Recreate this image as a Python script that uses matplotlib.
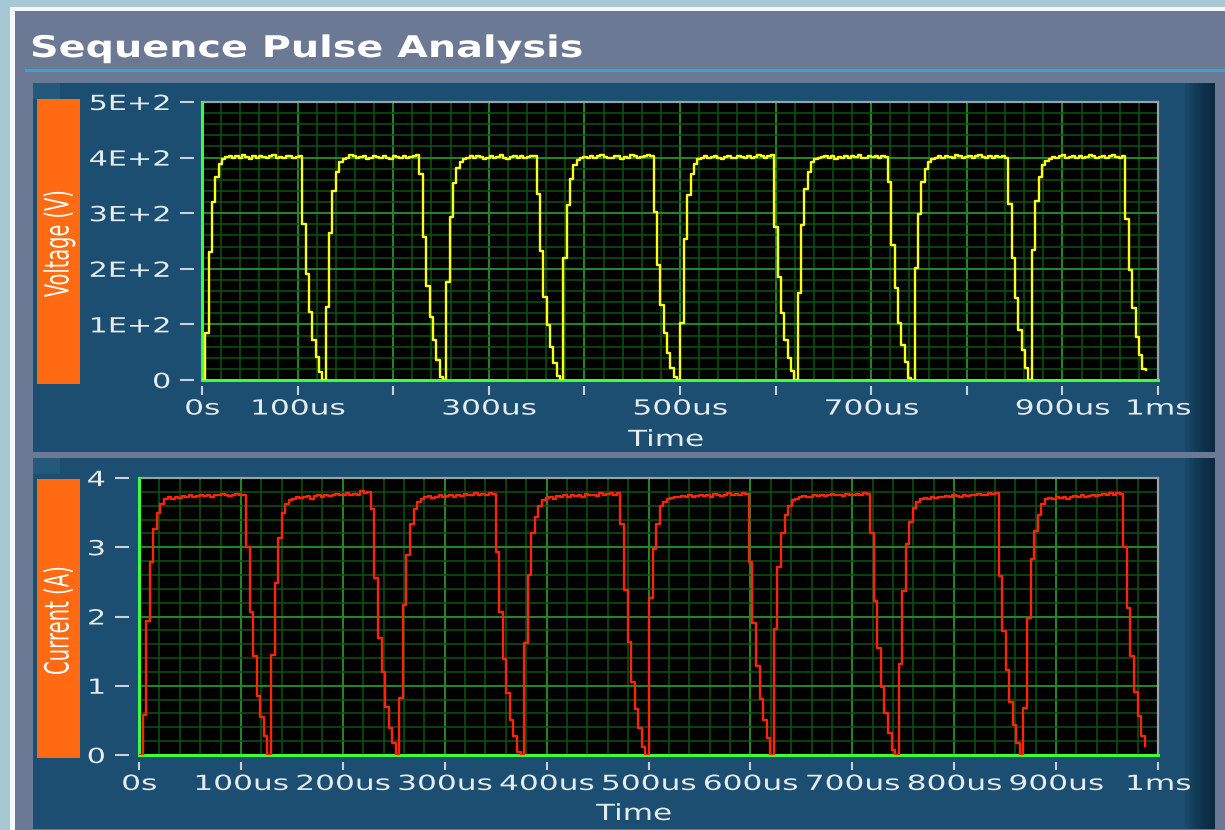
import numpy as np
import matplotlib
matplotlib.use("Agg")
import matplotlib.pyplot as plt
from matplotlib.patches import Rectangle
from matplotlib.patheffects import AbstractPathEffect
from matplotlib.transforms import Affine2D
from matplotlib.ticker import MultipleLocator

# ---------------- data ----------------
sample_step_us = 3.5

voltage_pulses = [
    [0, 85, 230, 320, 365, 388, 398,
     401, 403, 400, 402, 399, 404, 401, 398, 402, 400, 403, 401, 399, 402, 404, 400, 401, 399, 403, 402, 400, 401, 403,
     280, 190, 123, 72, 42, 15],
    [0, 132, 265, 340, 374, 392, 398,
     400, 405, 402, 399, 401, 403, 398, 400, 402, 401, 399, 403, 400, 398, 402, 401, 400, 403, 399, 401, 402, 404,
     371, 257, 169, 114, 72, 36, 6],
    [0, 177, 293, 355, 381, 392, 398,
     399, 402, 400, 403, 401, 398, 400, 402, 399, 401, 404, 400, 398, 401, 403, 400, 402, 399, 401, 403, 402,
     335, 232, 150, 99, 60, 30, 8],
    [0, 219, 314, 362, 386, 395, 399,
     401, 399, 403, 400, 402, 404, 401, 399, 400, 403, 402, 398, 401, 400, 404, 402, 399, 401, 403, 405, 402,
     302, 207, 135, 84, 48, 21, 5],
    [0, 102, 254, 332, 371, 389, 397,
     400, 402, 399, 401, 403, 400, 398, 401, 402, 400, 399, 403, 401, 400, 402, 399, 401, 404, 402, 400, 403, 405,
     275, 186, 120, 72, 39, 16],
    [0, 156, 278, 344, 374, 392, 398,
     399, 401, 403, 400, 402, 398, 401, 400, 403, 399, 402, 401, 404, 400, 399, 402, 401, 403, 400, 402, 401,
     356, 243, 165, 102, 63, 33, 3],
    [0, 201, 299, 356, 380, 392, 398,
     400, 402, 399, 403, 401, 400, 404, 402, 399, 401, 403, 400, 402, 405, 401, 399, 402, 400, 403, 401, 402, 400,
     317, 219, 147, 90, 54, 21],
    [0, 234, 322, 365, 386, 393, 398,
     401, 399, 402, 404, 400, 401, 403, 399, 402, 400, 401, 404, 402, 399, 401, 403, 400, 402, 404, 401, 400, 402,
     290, 198, 129, 78, 45, 20, 18],
]

current_pulses = [
    [0, 0.58, 1.93, 2.79, 3.27, 3.49, 3.63,
     3.70, 3.72, 3.69, 3.73, 3.71, 3.74, 3.72, 3.75, 3.73, 3.74, 3.76, 3.74, 3.75, 3.73, 3.76, 3.75, 3.77, 3.75, 3.74, 3.76, 3.77, 3.75, 3.76,
     3.00, 2.06, 1.43, 0.85, 0.55, 0.27],
    [0, 1.44, 2.49, 3.14, 3.49, 3.62, 3.68,
     3.70, 3.73, 3.71, 3.72, 3.74, 3.70, 3.74, 3.75, 3.73, 3.76, 3.74, 3.75, 3.77, 3.75, 3.76, 3.78, 3.75, 3.77, 3.76, 3.81, 3.79, 3.80,
     3.55, 2.56, 1.69, 1.20, 0.70, 0.39, 0.17],
    [0, 0.83, 2.17, 2.89, 3.34, 3.55, 3.66,
     3.70, 3.72, 3.74, 3.71, 3.73, 3.75, 3.72, 3.74, 3.76, 3.73, 3.75, 3.74, 3.77, 3.75, 3.76, 3.79, 3.75, 3.77, 3.76, 3.78, 3.77,
     2.93, 2.06, 1.38, 0.90, 0.50, 0.27, 0.05],
    [0, 1.62, 2.60, 3.20, 3.44, 3.60, 3.68,
     3.71, 3.73, 3.70, 3.74, 3.72, 3.75, 3.73, 3.76, 3.74, 3.75, 3.73, 3.77, 3.75, 3.76, 3.74, 3.78, 3.76, 3.77, 3.79, 3.76, 3.78,
     3.34, 2.38, 1.63, 1.06, 0.66, 0.39, 0.12],
    [0, 2.27, 2.98, 3.34, 3.59, 3.66, 3.70,
     3.71, 3.73, 3.72, 3.74, 3.72, 3.75, 3.73, 3.74, 3.76, 3.74, 3.75, 3.73, 3.77, 3.75, 3.74, 3.76, 3.78, 3.75, 3.77, 3.76, 3.78, 3.77,
     2.78, 1.90, 1.28, 0.81, 0.51, 0.24],
    [0, 1.82, 2.71, 3.20, 3.46, 3.60, 3.68,
     3.70, 3.72, 3.74, 3.72, 3.73, 3.75, 3.74, 3.76, 3.74, 3.75, 3.77, 3.75, 3.76, 3.74, 3.77, 3.76, 3.75, 3.77, 3.76, 3.78, 3.77,
     3.20, 2.22, 1.54, 0.98, 0.61, 0.32, 0.07],
    [0, 1.32, 2.37, 3.05, 3.37, 3.56, 3.66,
     3.69, 3.71, 3.70, 3.72, 3.71, 3.73, 3.72, 3.74, 3.73, 3.75, 3.74, 3.73, 3.75, 3.74, 3.76, 3.75, 3.77, 3.75, 3.76, 3.79, 3.77, 3.78,
     2.59, 1.79, 1.23, 0.76, 0.44, 0.17],
    [0, 0.68, 1.98, 2.83, 3.24, 3.46, 3.62,
     3.69, 3.71, 3.70, 3.72, 3.71, 3.73, 3.70, 3.72, 3.74, 3.73, 3.75, 3.72, 3.74, 3.76, 3.74, 3.75, 3.77, 3.75, 3.78, 3.76, 3.79, 3.77,
     3.01, 2.12, 1.43, 0.91, 0.56, 0.27, 0.13],
]

volt_ticks = [0, 100, 200, 300, 400, 500]
volt_ticklabels = ["0", "1E+2", "2E+2", "3E+2", "4E+2", "5E+2"]
curr_ticks = [0, 1, 2, 3, 4]
curr_ticklabels = ["0", "1", "2", "3", "4"]
time_ticks = [0, 100, 200, 300, 400, 500, 600, 700, 800, 900, 1000]
time_ticklabels_top = ["0s", "100us", "", "300us", "", "500us", "", "700us", "", "900us", "1ms"]
time_ticklabels_bottom = ["0s", "100us", "200us", "300us", "400us", "500us",
                          "600us", "700us", "800us", "900us", "1ms"]

voltage = np.concatenate([np.asarray(p, float) for p in voltage_pulses])
current = np.concatenate([np.asarray(p, float) for p in current_pulses])
time_us = np.arange(len(voltage)) * sample_step_us


# ---------------- helpers ----------------
class Stretch(AbstractPathEffect):
    """Scale rendered text horizontally / vertically (wide LabVIEW-like font)."""
    def __init__(self, sx=1.0, sy=1.0, ha="center"):
        super().__init__((0, 0))
        self.sx, self.sy, self.ha = sx, sy, ha

    def draw_path(self, renderer, gc, tpath, affine, rgbFace=None):
        v = affine.transform(tpath.vertices)
        if len(v) == 0:
            return
        xmin, xmax = v[:, 0].min(), v[:, 0].max()
        x0 = {"left": xmin, "right": xmax, "center": 0.5 * (xmin + xmax)}[self.ha]
        y0 = 0.5 * (v[:, 1].min() + v[:, 1].max())
        tr = affine + Affine2D().translate(-x0, -y0).scale(self.sx, self.sy).translate(x0, y0)
        renderer.draw_path(gc, tpath, tr, rgbFace)


W, H = 1225, 830
fig = plt.figure(figsize=(W / 100, H / 100), dpi=100)
fig.patch.set_facecolor("#a6c8d4")


def fx(x):
    return x / W


def fy(y):
    return 1 - y / H


def rect(x0, y0, x1, y1, color, z=-10, alpha=1.0):
    fig.add_artist(Rectangle((fx(x0), fy(y1)), (x1 - x0) / W, (y1 - y0) / H,
                             transform=fig.transFigure, facecolor=color,
                             edgecolor="none", zorder=z, alpha=alpha))


# ---------------- panel decoration ----------------
rect(10, 7, W, H, "#f4f8fa", z=-20)
rect(15, 11, W, H, "#6b7994", z=-19)
rect(25, 69.5, W, 72.5, "#3aa6c4", z=-18)

for (y0, y1) in [(83, 452), (458, 829)]:
    rect(33, y0, 1215, y1, "#1b4e70", z=-17)
    # darker gradient at right edge
    for i in range(12):
        rect(1185 + i * 2.5, y0, 1215, y1, "#061a2a", z=-16, alpha=0.08)
    # subtle lighter top-left highlight
    rect(33, y0, 60, y0 + 16, "#235a7c", z=-16)

# orange label boxes
rect(37, 99, 80, 384, "#ff6a12", z=-15)
rect(37, 479, 80, 758, "#ff6a12", z=-15)

fig.text(fx(30), fy(57), "Sequence Pulse Analysis", fontsize=21.5, fontweight="bold",
         color="white", ha="left", va="baseline",
         path_effects=[Stretch(1.33, 1.0, "left")])
fig.text(fx(59), fy(243), "Voltage (V)", fontsize=24, color="white", rotation=90,
         ha="center", va="center", path_effects=[Stretch(1.0, 0.58, "center")])
fig.text(fx(59), fy(620), "Current (A)", fontsize=24, color="white", rotation=90,
         ha="center", va="center", path_effects=[Stretch(1.0, 0.59, "center")])

# ---------------- axes ----------------
ax_v = fig.add_axes([fx(202), fy(380), (1158 - 202) / W, (380 - 102) / H])
ax_i = fig.add_axes([fx(139), fy(755), (1158 - 139) / W, (755 - 478) / H])

TICKC = "#c9d2da"
LABC = "#e4ecf2"
PX = 0.72  # points per pixel


def style(ax, ylim, yminor, yticks, yticklabels, xticklabels, left_out, left_len,
          left_pad, bottom_out, bottom_len, bottom_pad, label_xy):
    ax.set_facecolor("black")
    ax.set_xlim(0, 1000)
    ax.set_ylim(*ylim)
    ax.set_axisbelow(True)
    ax.xaxis.set_minor_locator(MultipleLocator(20))
    ax.yaxis.set_minor_locator(MultipleLocator(yminor))
    ax.grid(which="minor", color="#0c5512", lw=1.1)
    ax.grid(which="major", color="#1f8c26", lw=1.4)
    for s in ("top", "right"):
        ax.spines[s].set_color("#9aa0a6")
        ax.spines[s].set_linewidth(1.6)
    ax.spines["left"].set_position(("outward", left_out))
    ax.spines["bottom"].set_position(("outward", bottom_out))
    ax.spines["left"].set_color("none")
    ax.spines["bottom"].set_color("none")
    ax.set_yticks(yticks, yticklabels)
    ax.set_xticks(time_ticks, xticklabels)
    ax.tick_params(which="minor", length=0)
    ax.tick_params(axis="y", which="major", length=left_len * PX, width=1.5, color=TICKC,
                   pad=left_pad * PX, labelsize=15, labelcolor=LABC)
    ax.tick_params(axis="x", which="major", length=bottom_len * PX, width=1.5, color=TICKC,
                   pad=bottom_pad * PX, labelsize=15, labelcolor=LABC)
    for lab in ax.get_yticklabels():
        lab.set_path_effects([Stretch(1.45, 1.0, "right")])
    for lab in ax.get_xticklabels():
        lab.set_path_effects([Stretch(1.5, 1.0, "center")])
    ax.set_xlabel("Time", fontsize=16, color=LABC,
                  path_effects=[Stretch(1.4, 1.0, "center")])
    ax.xaxis.label.set_va("center")
    ax.xaxis.set_label_coords(*label_xy)
    ax.axvline(0, color="#3cff3c", lw=2.2, clip_on=False, zorder=3)
    ax.axhline(0, color="#3cff3c", lw=2.2, clip_on=False, zorder=3)


style(ax_v, (0, 500), 20, volt_ticks, volt_ticklabels, time_ticklabels_top,
      6, 14, 9, 4, 9, 4, ((666 - 202) / 956, (380 - 440) / 278))
style(ax_i, (0, 4), 0.2, curr_ticks, curr_ticklabels, time_ticklabels_bottom,
      7, 14, 10, 5, 8, 4, ((634 - 139) / 1019, (755 - 814) / 277))

ax_v.plot(time_us, voltage, drawstyle="steps-post", color="#ffff14", lw=1.7, zorder=4)
ax_i.plot(time_us, current, drawstyle="steps-post", color="#ff2408", lw=1.7, zorder=4)

fig.savefig("out.png", dpi=100, facecolor=fig.get_facecolor())
